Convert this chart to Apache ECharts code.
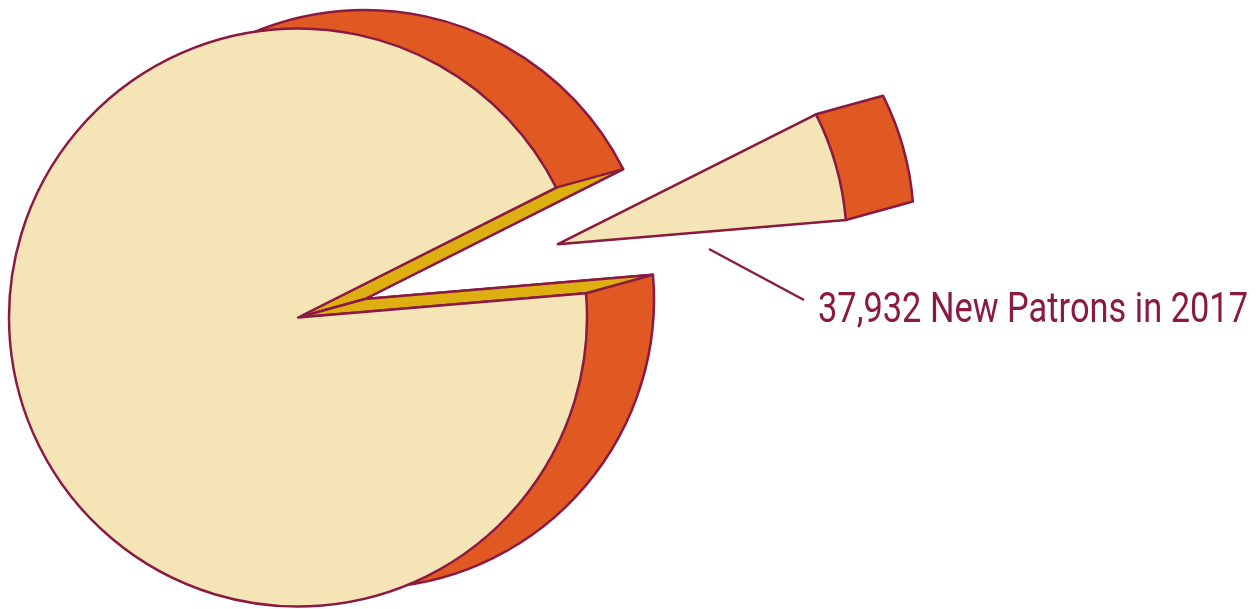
<!DOCTYPE html>
<html>
<head>
<meta charset="utf-8">
<script src="https://cdn.jsdelivr.net/npm/echarts@6/dist/echarts.min.js"></script>
<style>
  html, body { margin: 0; padding: 0; background: #fff; }
  #main { width: 1260px; height: 609px; }
</style>
</head>
<body>
<div id="main"></div>
<script>
// data
const sliceNames = ['New Patrons in 2017', 'Other Patrons'];
const sliceValues = [37932, 586000];
const labelText = '37,932 New Patrons in 2017';

// look
const CREAM = '#F5E4B6';
const ORANGE = '#E05922';
const GOLD = '#DDAF10';
const MAROON = '#8B1A42';
const center = [298, 317.5];
const radius = 289;
const depth = [67, -18.5]; // fake 3d extrusion
const explode = 270;
const startAngle = 26.7;
const lw = 2.5;

const total = sliceValues.reduce((a, b) => a + b, 0);
const a1 = startAngle * Math.PI / 180;
const a2 = a1 - sliceValues[0] / total * Math.PI * 2;
const mid = (a1 + a2) / 2;
const pt = (c, a, r) => [c[0] + r * Math.cos(a), c[1] - r * Math.sin(a)];
const add = (p, d) => [p[0] + d[0], p[1] + d[1]];
const C = center;
const CB = add(C, depth);
const T = pt(C, mid, explode);
const TB = add(T, depth);

function pieSeries(c, fill, z, back) {
  return {
    type: 'pie',
    center: c,
    radius: radius,
    startAngle: startAngle,
    clockwise: true,
    selectedMode: 'single',
    selectedOffset: explode,
    silent: true,
    z: z,
    label: { show: false },
    labelLine: { show: false },
    emphasis: { disabled: true },
    data: sliceNames.map((n, i) => {
      const pulled = back && i === 0;
      const st = {
        color: fill,
        borderColor: pulled ? ORANGE : MAROON,
        borderWidth: pulled ? 1 : lw,
        borderJoin: 'round'
      };
      return { name: n, value: sliceValues[i], selected: i === 0, itemStyle: st, select: { itemStyle: st } };
    })
  };
}

const graphics = [];
[a1, a2].forEach(a => {
  // cut faces of the main pie
  const P = pt(C, a, radius);
  graphics.push({
    type: 'polygon', z: 5, silent: true,
    shape: { points: [C, P, add(P, depth), CB] },
    style: { fill: GOLD, stroke: MAROON, lineWidth: lw, lineJoin: 'round' }
  });
  // side of the pulled-out slice
  const Pe = pt(T, a, radius);
  graphics.push({
    type: 'polygon', z: 5, silent: true,
    shape: { points: [T, Pe, add(Pe, depth), TB] },
    style: { fill: ORANGE, stroke: ORANGE, lineWidth: 1.5 }
  });
  graphics.push({
    type: 'line', z: 6, silent: true,
    shape: { x1: Pe[0], y1: Pe[1], x2: Pe[0] + depth[0], y2: Pe[1] + depth[1] },
    style: { stroke: MAROON, lineWidth: lw, lineCap: 'round' }
  });
});
graphics.push({
  type: 'arc', z: 6, silent: true,
  shape: { cx: TB[0], cy: TB[1], r: radius, startAngle: -a1, endAngle: -a2, clockwise: true },
  style: { stroke: MAROON, lineWidth: lw, fill: null }
});

// annotation
const fontSize = 43;
const ctx = document.createElement('canvas').getContext('2d');
ctx.font = fontSize + 'px Roboto';
const tw = ctx.measureText(labelText).width;
graphics.push({
  type: 'line', z: 10, silent: true,
  shape: { x1: 709, y1: 249, x2: 804, y2: 300 },
  style: { stroke: MAROON, lineWidth: lw }
});
graphics.push({
  type: 'text', z: 10, silent: true,
  x: 818, y: 311, scaleX: 430 / tw,
  style: { text: labelText, fontSize: fontSize, fontFamily: 'Roboto', fill: MAROON, verticalAlign: 'middle' }
});

const chart = echarts.init(document.getElementById('main'));
chart.setOption({
  animation: false,
  backgroundColor: '#fff',
  series: [
    pieSeries(CB, ORANGE, 1, true),
    pieSeries(C, CREAM, 10, false)
  ],
  graphic: { elements: graphics }
});
</script>
</body>
</html>
